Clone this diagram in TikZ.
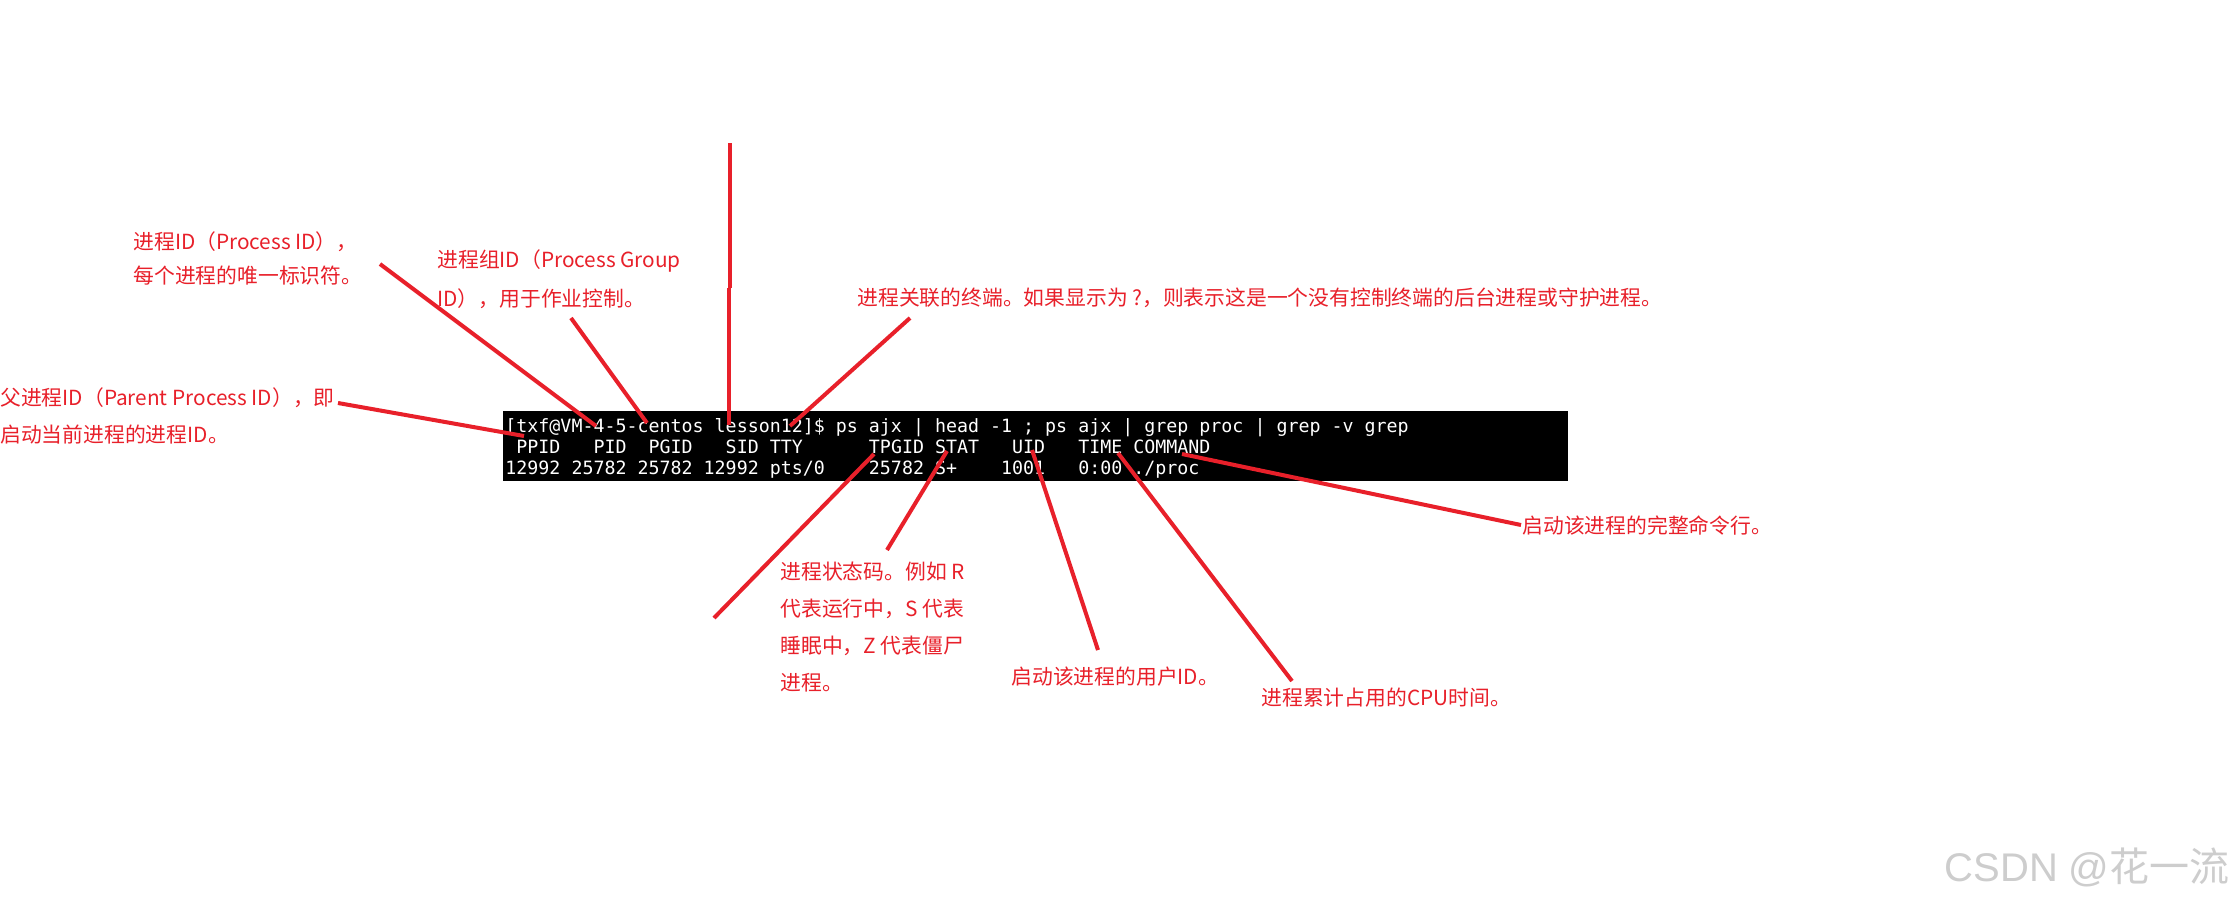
\documentclass[tikz,border=0pt]{standalone}
\usepackage{fontspec}
\newfontfamily\cjkf{Noto Sans CJK SC}
\newfontfamily\termf{DejaVu Sans Mono}
\newfontfamily\wmf{Liberation Sans}
\definecolor{annred}{RGB}{232,32,42}
\definecolor{wmgray}{RGB}{205,205,205}
\begin{document}
\begin{tikzpicture}[x=0.5pt,y=-0.5pt,
  lbl/.style={text=annred, font=\cjkf\fontsize{10.4}{#1}\selectfont, inner sep=0, anchor=west, align=left},
  lbl/.default=18.5,
  conn/.style={draw=annred, line width=2pt},
  termtxt/.style={text=white, font=\termf\fontsize{9.15}{10.5}\selectfont, inner sep=0, anchor=base west}]
\useasboundingbox (0,0) rectangle (2239,906);
\fill[white] (0,0) rectangle (2239,906);
% terminal
\node[fill=black, inner sep=0, minimum width=532.5pt, minimum height=35pt, anchor=north west] (termbox) at (503,411) {};
\node[termtxt] (cmd) at (505,432.5) {[txf@VM-4-5-centos~lesson12]\$~ps~ajx~|~head~-1~;~ps~ajx~|~grep~proc~|~grep~-v~grep};
\node[termtxt] (hdr) at (505,453.5) {~PPID~~~PID~~PGID~~~SID~TTY~~~~~~TPGID~STAT~~~UID~~~TIME~COMMAND};
\node[termtxt] (row) at (505,474.5) {12992~25782~25782~12992~pts/0~~~~25782~S+~~~~1001~~~0:00~./proc};
% labels
\node[lbl=17.1] (pidL) at (133,258.5) {进程ID（Process ID），\\每个进程的唯一标识符。};
\node[lbl=19.3] (pgidL) at (437,279) {进程组ID（Process Group\\ID），用于作业控制。};
\node[lbl=18.5] (ppidL) at (0,415.5) {父进程ID（Parent Process ID），即\\启动当前进程的进程ID。};
\node[lbl] (ttyL) at (857,298) {进程关联的终端。如果显示为 ?，则表示这是一个没有控制终端的后台进程或守护进程。};
\node[lbl=18.6] (statL) at (780,627) {进程状态码。例如 R\\代表运行中，S 代表\\睡眠中，Z 代表僵尸\\进程。};
\node[lbl] (uidL) at (1011,677) {启动该进程的用户ID。};
\node[lbl] (timeL) at (1261,698) {进程累计占用的CPU时间。};
\node[lbl] (cmdL) at (1522,525.5) {启动该进程的完整命令行。};
\node[text=wmgray, font=\wmf\fontsize{20}{24}\selectfont, anchor=east, inner sep=0] (wm) at (2230,867) {CSDN @{\cjkf 花一流}};
% connector end points
\coordinate (aS) at (338,403); \coordinate (aE) at (524,436);
\coordinate (bS) at (380,264); \coordinate (bE) at (596,426);
\coordinate (cS) at (571,318); \coordinate (cE) at (647,423);
\coordinate (dS) at (730,143); \coordinate (dM) at (730,288); \coordinate (dM2) at (729,288); \coordinate (dE) at (729,425);
\coordinate (eS) at (910,318); \coordinate (eE) at (790,426);
\coordinate (fS) at (874,454); \coordinate (fE) at (714,618);
\coordinate (gS) at (947,451); \coordinate (gE) at (887,550);
\coordinate (hS) at (1032,450); \coordinate (hE) at (1098,650);
\coordinate (iS) at (1118,453); \coordinate (iE) at (1292,681);
\coordinate (jS) at (1182,454); \coordinate (jE) at (1521,525);
\draw[conn] (aS) -- (aE);
\draw[conn] (bS) -- (bE);
\draw[conn] (cS) -- (cE);
\draw[conn] (dS) -- (dM);
\draw[conn] (dM2) -- (dE);
\draw[conn] (eS) -- (eE);
\draw[conn] (fS) -- (fE);
\draw[conn] (gS) -- (gE);
\draw[conn] (hS) -- (hE);
\draw[conn] (iS) -- (iE);
\draw[conn] (jS) -- (jE);
\end{tikzpicture}
\end{document}
